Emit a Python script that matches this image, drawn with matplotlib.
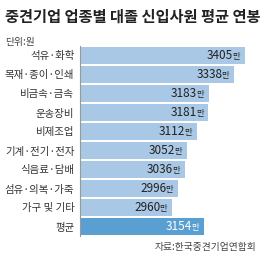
import matplotlib.pyplot as plt

plt.rcParams['font.family'] = ['Noto Sans CJK KR', 'DejaVu Sans']

categories = ['석유·화학', '목재·종이·인쇄', '비금속·금속', '운송장비', '비제조업',
              '기계·전기·전자', '식음료·담배', '섬유·의복·가죽', '가구 및 기타', '평균']
values = [3405, 3338, 3183, 3181, 3112, 3052, 3036, 2996, 2960, 3154]

W, H = 270, 257
fig = plt.figure(figsize=(W / 100, H / 100), dpi=100)
fig.patch.set_facecolor('white')

# axes placed in pixel units: left 80, right 270, top 46, bottom 236
ax = fig.add_axes([80 / W, 1 - 236 / H, 190 / W, 190 / H])
ax.set_xlim(2399, 3557)
ax.set_ylim(len(values) - 0.5, -0.5)

light = '#a8c8e6'
dark = '#5a9fd2'
colors = [light] * (len(values) - 1) + [dark]
ypos = list(range(len(values)))
ax.barh(ypos, [v - 2399 for v in values], left=2399, height=0.88, color=colors)

for y, v, c in zip(ypos, values, colors):
    tc = 'white' if c == dark else '#222222'
    ax.annotate('만', (v, y), xytext=(-3.5, -0.5), textcoords='offset points',
                ha='right', va='center', fontsize=6, color=tc)
    ax.annotate(str(v), (v, y), xytext=(-8.5, 0), textcoords='offset points',
                ha='right', va='center', fontsize=8.5, color=tc)

ax.set_yticks(ypos)
ax.set_yticklabels(categories, fontsize=7.5, color='#333333')
ax.tick_params(axis='y', length=0, pad=4)
ax.set_xticks([])
for s in ['top', 'right', 'bottom']:
    ax.spines[s].set_visible(False)
ax.spines['left'].set_color('#999999')
ax.spines['left'].set_linewidth(0.8)

fig.text(5 / W, 1 - 17 / H, '중견기업 업종별 대졸 신입사원 평균 연봉',
         fontsize=11, fontweight='bold', color='#222222', ha='left', va='center')
fig.text(5 / W, 1 - 42 / H, '단위:원', fontsize=7, color='#444444',
         ha='left', va='center')
fig.text(256 / W, 1 - 247 / H, '자료:한국중견기업연합회', fontsize=7,
         color='#444444', ha='right', va='center')

fig.savefig('out.png', dpi=100)
